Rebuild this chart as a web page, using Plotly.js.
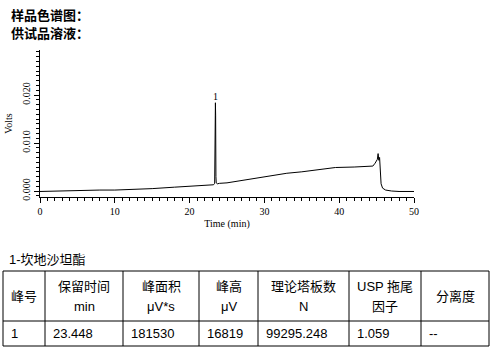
<!DOCTYPE html>
<html>
<head>
<meta charset="utf-8">
<script src="https://cdn.plot.ly/plotly-3.0.1.min.js"></script>
<style>html,body{margin:0;padding:0;background:#fff;}#chart{width:501px;height:353px;}</style>
</head>
<body>
<div id="chart"></div>
<script>
// Chromatogram data (time in min, signal in Volts)
const timeMin = [0, 2, 5, 8, 10, 12, 15, 18, 20, 22, 23.2, 23.35, 23.40, 23.42, 23.45, 23.48, 23.52, 23.56, 23.7, 24, 25, 27, 29, 31, 33, 35, 37, 38, 39.5, 42, 44.5, 44.8, 45.1, 45.2, 45.3, 45.4, 45.5, 45.6, 45.8, 46.2, 47, 48, 50];
const volts   = [-0.0001, 0.0000, 0.0001, 0.0002, 0.0002, 0.0003, 0.0005, 0.0008, 0.0010, 0.0012, 0.0013, 0.0016, 0.0085, 0.0090, 0.0184, 0.0158, 0.0030, 0.0017, 0.0015, 0.0016, 0.0017, 0.0022, 0.0027, 0.0032, 0.0037, 0.0040, 0.0044, 0.0047, 0.0049, 0.0050, 0.0052, 0.0058, 0.0066, 0.0078, 0.0064, 0.0070, 0.0030, 0.0015, 0.0006, 0.0002, 0.0000, -0.0001, -0.0001];

const peakLabels = ["1"];
const peakTimes = [23.448];
const peakHeights = [0.0184];

const titleLines = ["样品色谱图：", "供试品溶液："];
const compoundName = "1-坎地沙坦酯";

// Table
const headerLine1 = ["峰号", "保留时间", "峰面积", "峰高", "理论塔板数", "USP 拖尾", "分离度"];
const headerLine2 = ["", "min", "μV*s", "μV", "N", "因子", ""];
const colPeakNo = ["1"];
const colRetTime = ["23.448"];
const colArea = ["181530"];
const colHeight = ["16819"];
const colPlates = ["99295.248"];
const colTailing = ["1.059"];
const colResolution = ["--"];
const tableRows = [colPeakNo, colRetTime, colArea, colHeight, colPlates, colTailing, colResolution];

const W = 501, H = 353;
const px = v => v / W;
const py = v => 1 - v / H;

const serif = "Liberation Serif, Times New Roman, serif";
const sans = "Arial, Liberation Sans, Noto Sans CJK SC, sans-serif";

// table geometry (pixels)
const colWidths = [42, 78, 76, 59, 91, 72, 68];
const tableLeft = 3, tableTop = 271, headerH = 50, rowH = 25;
const colEdges = [tableLeft];
colWidths.forEach(w => colEdges.push(colEdges[colEdges.length - 1] + w));
const tableBottom = tableTop + headerH + rowH;
const tableRight = colEdges[colEdges.length - 1];

const shapes = [];
const lineStyle = {color: "#000", width: 1};
// horizontal lines
[tableTop, tableTop + headerH, tableBottom].forEach(yy => shapes.push({
  type: "line", xref: "paper", yref: "paper",
  x0: px(tableLeft), x1: px(tableRight), y0: py(yy), y1: py(yy), line: lineStyle
}));
// vertical lines
colEdges.forEach(xx => shapes.push({
  type: "line", xref: "paper", yref: "paper",
  x0: px(xx), x1: px(xx), y0: py(tableTop), y1: py(tableBottom), line: lineStyle
}));

const annotations = [];
titleLines.forEach((t, i) => annotations.push({
  text: "<b>" + t + "</b>", xref: "paper", yref: "paper",
  x: px(9), y: py(14 + i * 19), xanchor: "left", yanchor: "middle",
  showarrow: false, font: {family: "Noto Sans CJK SC, sans-serif", size: 13, color: "#000"}
}));
annotations.push({
  text: compoundName, xref: "paper", yref: "paper",
  x: px(7), y: py(259), xanchor: "left", yanchor: "middle",
  showarrow: false, font: {family: sans, size: 13, color: "#000"}
});
peakLabels.forEach((t, i) => annotations.push({
  text: t, x: peakTimes[i], y: peakHeights[i], xref: "x", yref: "y",
  yanchor: "bottom", showarrow: false, yshift: -1,
  font: {family: serif, size: 10, color: "#000"}
}));
// header cells
headerLine1.forEach((t, i) => {
  const cx = (colEdges[i] + colEdges[i + 1]) / 2;
  const two = headerLine2[i] !== "";
  annotations.push({
    text: t, xref: "paper", yref: "paper",
    x: px(cx), y: py(two ? tableTop + 15 : tableTop + headerH / 2),
    xanchor: "center", yanchor: "middle", showarrow: false,
    font: {family: sans, size: 13, color: "#000"}
  });
  if (two) annotations.push({
    text: headerLine2[i], xref: "paper", yref: "paper",
    x: px(cx), y: py(tableTop + 35),
    xanchor: "center", yanchor: "middle", showarrow: false,
    font: {family: sans, size: 13, color: "#000"}
  });
});
// data cells
tableRows.forEach((col, i) => col.forEach((v, r) => annotations.push({
  text: v, xref: "paper", yref: "paper",
  x: px(colEdges[i] + 6), y: py(tableTop + headerH + rowH * r + rowH / 2),
  xanchor: "left", yanchor: "middle", showarrow: false,
  font: {family: sans, size: 13, color: "#000"}
})));

const traces = [{
  type: "scatter", mode: "lines",
  x: timeMin, y: volts,
  line: {color: "#000", width: 1},
  hoverinfo: "skip", showlegend: false
}];

const layout = {
  width: W, height: H,
  margin: {l: 0, r: 0, t: 0, b: 0},
  paper_bgcolor: "#fff", plot_bgcolor: "#fff",
  showlegend: false,
  xaxis: {
    domain: [px(40), px(414)],
    range: [0, 50], autorange: false,
    showline: true, linecolor: "#000", linewidth: 1,
    showgrid: false, zeroline: false,
    ticks: "outside", ticklen: 5, tickwidth: 1, tickcolor: "#000",
    dtick: 10, tick0: 0,
    minor: {dtick: 1, ticks: "outside", ticklen: 3, tickcolor: "#000", showgrid: false},
    tickfont: {family: serif, size: 10, color: "#000"},
    title: {text: "Time (min)", font: {family: serif, size: 10, color: "#000"}, standoff: 3},
    anchor: "y"
  },
  yaxis: {
    domain: [py(197), py(50)],
    range: [-0.00125, 0.0294], autorange: false,
    showline: true, linecolor: "#000", linewidth: 1,
    showgrid: false, zeroline: false,
    ticks: "outside", ticklen: 5, tickwidth: 1, tickcolor: "#000",
    dtick: 0.01, tick0: 0, tickformat: ".3f", tickangle: -90,
    minor: {dtick: 0.001, ticks: "outside", ticklen: 3, tickcolor: "#000", showgrid: false},
    tickfont: {family: serif, size: 10, color: "#000"},
    title: {text: "Volts", font: {family: serif, size: 10, color: "#000"}, standoff: 6},
    anchor: "x"
  },
  shapes: shapes,
  annotations: annotations
};

Plotly.newPlot("chart", traces, layout, {staticPlot: true, displayModeBar: false});
</script>
</body>
</html>
